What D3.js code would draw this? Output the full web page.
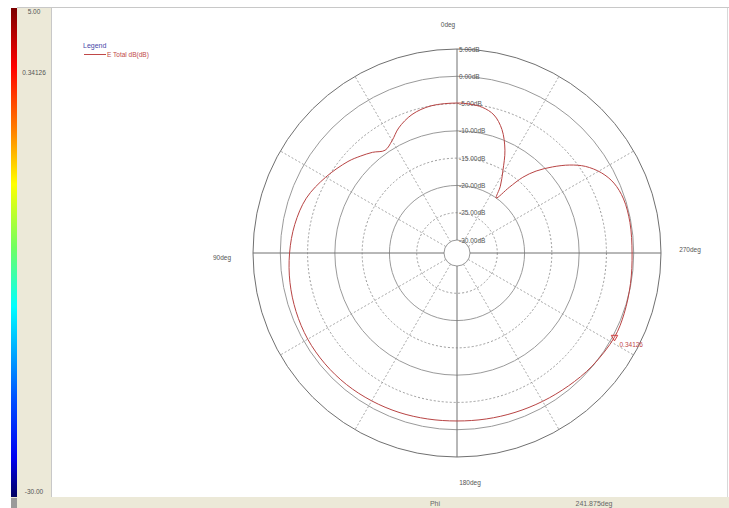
<!DOCTYPE html>
<html>
<head>
<meta charset="utf-8">
<script src="https://cdn.jsdelivr.net/npm/d3@7"></script>
<style>
	html, body { margin: 0; padding: 0; background: #fff; }
	svg { display: block; font-family: "Liberation Sans", Arial, sans-serif; }
</style>
</head>
<body>
<svg id="polar-chart" width="729" height="508"></svg>
<script>
// pattern trace, angle in deg (counter clockwise from top), value in dB
var patternAngles = [0, 10, 18, 25, 30, 35, 40, 45, 50, 60, 70, 80, 90, 100, 110, 120, 130, 140, 150, 160, 170, 180,
	190, 200, 210, 220, 230, 241.875, 250, 260, 270, 280, 288, 294, 299, 304, 308, 312, 316, 319, 321.5, 324.5, 327, 331,
	335, 340, 345, 350, 355];
var patternDb = [-4.9, -5.0, -5.7, -7.1, -8.6, -9.4, -8.3, -7.3, -6.3, -4.6, -3.0, -2.2, -1.7, -1.3, -1.0, -0.8, -0.8, -0.9, -1.1, -1.3, -1.5, -1.6,
	-1.5, -1.3, -1.0, -0.6, -0.1, 0.34126, 0.2, -0.1, -0.3, -0.2, -0.3, -0.9, -2.1, -4.0, -6.2, -8.8, -11.5, -14.0, -17.0, -20.0, -17.8, -15.0,
	-11.6, -8.3, -6.2, -5.3, -5.0];

var ringDb = [5, 0, -5, -10, -15, -20, -25, -30];
var ringLabels = ["5.00dB", "0.00dB", "-5.00dB", "-10.00dB", "-15.00dB", "-20.00dB", "-25.00dB", "-30.00dB"];
var axisAngles = [0, 90, 180, 270];
var axisLabels = ["0deg", "90deg", "180deg", "270deg"];
var spokeAngles = [30, 60, 120, 150, 210, 240, 300, 330];

var scaleValues = [5, 0.34126, -30];
var scaleLabels = ["5.00", "0.34126", "-30.00"];

var markerAngle = 241.875;
var markerDb = 0.34126;
var markerLabel = "0.34126";
var legendTitle = "Legend";
var legendLabel = "E Total dB(dB)";
var sweepName = "Phi";
var sweepValue = "241.875deg";

(function() {

	'use strict';

	var svg = d3.select("#polar-chart"),
		cx = 457,
		cy = 253,
		rScale,
		chartGroup;

	var toRad = function(deg) { return deg * Math.PI / 180; };

	// position for angle (ccw from top) and radius
	var polarX = function(deg, r) { return cx - r * Math.sin(toRad(deg)); };
	var polarY = function(deg, r) { return cy - r * Math.cos(toRad(deg)); };

	/**
	* frame, side panel and bottom strip
	* @returns {undefined}
	*/
	var drawFrame = function() {
		svg.append("rect")
			.attr("x", 17).attr("y", 7).attr("width", 34).attr("height", 491)
			.attr("fill", "#ece9d8");

		svg.append("rect")
			.attr("x", 11).attr("y", 497).attr("width", 718).attr("height", 11)
			.attr("fill", "#ece9d8");

		svg.append("rect")
			.attr("x", 11).attr("y", 498).attr("width", 6).attr("height", 10)
			.attr("fill", "#9a9a9a");

		svg.append("line")
			.attr("x1", 17).attr("x2", 729).attr("y1", 7.5).attr("y2", 7.5)
			.attr("stroke", "#c8c8c8");

		svg.append("line")
			.attr("x1", 51.5).attr("x2", 51.5).attr("y1", 8).attr("y2", 497)
			.attr("stroke", "#c8c8c8");

		svg.append("line")
			.attr("x1", 727.5).attr("x2", 727.5).attr("y1", 8).attr("y2", 497)
			.attr("stroke", "#d8d8d8");

		svg.append("text")
			.attr("x", 435).attr("y", 506)
			.attr("text-anchor", "middle")
			.attr("font-size", "7px").attr("fill", "#666")
			.text(sweepName);

		svg.append("text")
			.attr("x", 594).attr("y", 506)
			.attr("text-anchor", "middle")
			.attr("font-size", "7px").attr("fill", "#666")
			.text(sweepValue);
	};

	/**
	* colour scale bar on the left
	* @returns {undefined}
	*/
	var drawScaleBar = function() {
		var yScale = d3.scaleLinear().domain([-30, 5]).range([497, 8]);

		var grad = svg.append("defs").append("linearGradient")
			.attr("id", "jet")
			.attr("x1", 0).attr("x2", 0).attr("y1", 0).attr("y2", 1);

		var stops = [
			[0, "#7a0000"], [0.12, "#ff0000"], [0.25, "#ff8000"], [0.36, "#ffff00"],
			[0.49, "#70ff60"], [0.61, "#00ffff"], [0.8, "#0050ff"], [0.92, "#0000f0"], [1, "#000060"]
		];
		grad.selectAll("stop")
			.data(stops)
			.enter()
			.append("stop")
			.attr("offset", function(d) { return d[0]; })
			.attr("stop-color", function(d) { return d[1]; });

		svg.append("rect")
			.attr("x", 11).attr("y", yScale(5)).attr("width", 6)
			.attr("height", yScale(-30) - yScale(5))
			.attr("fill", "url(#jet)");

		svg.append("g")
			.selectAll("text")
			.data(scaleValues)
			.enter()
			.append("text")
			.attr("x", 34)
			.attr("y", function(d) { return Math.min(Math.max(yScale(d) + 2, 14), 494); })
			.attr("text-anchor", "middle")
			.attr("font-size", "6.5px").attr("fill", "#555")
			.text(function(d, i) { return scaleLabels[i]; });
	};

	/**
	* grid circles, spokes and labels
	* @returns {undefined}
	*/
	var drawGrid = function() {
		rScale = d3.scaleLinear().domain([-30, 5]).range([13, 204]);
		chartGroup = svg.append("g");

		var rMax = rScale(5);

		chartGroup.append("g")
			.selectAll("line")
			.data(spokeAngles)
			.enter()
			.append("line")
			.attr("x1", function(d) { return polarX(d, rScale(-30)); })
			.attr("y1", function(d) { return polarY(d, rScale(-30)); })
			.attr("x2", function(d) { return polarX(d, rMax); })
			.attr("y2", function(d) { return polarY(d, rMax); })
			.attr("stroke", "#a8a8a8")
			.attr("stroke-dasharray", "2,2");

		chartGroup.append("g")
			.selectAll("circle")
			.data(ringDb)
			.enter()
			.append("circle")
			.attr("cx", cx).attr("cy", cy)
			.attr("r", function(d) { return rScale(d); })
			.attr("fill", "none")
			.attr("stroke", function(d) { return d === 5 ? "#707070" : "#9a9a9a"; })
			.attr("stroke-dasharray", function(d) { return (d % 10 !== 0 && d !== 5) ? "2,2" : null; });

		chartGroup.append("g")
			.selectAll("line")
			.data(axisAngles)
			.enter()
			.append("line")
			.attr("x1", function(d) { return polarX(d, rScale(-30)); })
			.attr("y1", function(d) { return polarY(d, rScale(-30)); })
			.attr("x2", function(d) { return polarX(d, rMax); })
			.attr("y2", function(d) { return polarY(d, rMax); })
			.attr("stroke", "#707070");

		chartGroup.append("g")
			.selectAll("text")
			.data(ringDb)
			.enter()
			.append("text")
			.attr("x", cx + 2)
			.attr("y", function(d) { return cy - rScale(d) + 2.5; })
			.attr("font-size", "6.5px").attr("fill", "#555")
			.text(function(d, i) { return ringLabels[i]; });

		var labelShift = { 0: [-9, 0], 90: [-1, 4], 180: [13, 0], 270: [-1, -4] };

		chartGroup.append("g")
			.selectAll("text")
			.data(axisAngles)
			.enter()
			.append("text")
			.attr("x", function(d) { return polarX(d, d % 180 === 0 ? 229 : 234) + labelShift[d][0]; })
			.attr("y", function(d) { return polarY(d, d % 180 === 0 ? 229 : 234) + labelShift[d][1] + 2.5; })
			.attr("text-anchor", "middle")
			.attr("font-size", "6.5px").attr("fill", "#555")
			.text(function(d, i) { return axisLabels[i]; });
	};

	/**
	* pattern trace, marker and legend
	* @returns {undefined}
	*/
	var drawPattern = function() {
		var pts = patternAngles.map(function(a, i) { return [a, patternDb[i]]; });

		var line = d3.lineRadial()
			.curve(d3.curveCatmullRomClosed.alpha(0.5))
			.angle(function(d) { return -toRad(d[0]); })
			.radius(function(d) { return rScale(d[1]); });

		chartGroup.append("path")
			.datum(pts)
			.attr("transform", "translate(" + cx + "," + cy + ")")
			.attr("d", line)
			.attr("fill", "none")
			.attr("stroke", "#b84444")
			.attr("stroke-width", 1);

		var mx = polarX(markerAngle, rScale(markerDb)),
			my = polarY(markerAngle, rScale(markerDb));

		chartGroup.append("path")
			.attr("d", d3.symbol().type(d3.symbolTriangle).size(18))
			.attr("transform", "translate(" + mx + "," + my + ") rotate(180)")
			.attr("fill", "none")
			.attr("stroke", "#d04040");

		chartGroup.append("text")
			.attr("x", mx + 5).attr("y", my + 10)
			.attr("font-size", "6.5px").attr("fill", "#c04848")
			.text(markerLabel);

		svg.append("text")
			.attr("x", 83).attr("y", 48)
			.attr("font-size", "7px").attr("fill", "#4848a8")
			.text(legendTitle);

		svg.append("line")
			.attr("x1", 84).attr("x2", 106).attr("y1", 54.5).attr("y2", 54.5)
			.attr("stroke", "#c04848");

		svg.append("text")
			.attr("x", 107).attr("y", 57)
			.attr("font-size", "6.5px").attr("fill", "#c04848")
			.text(legendLabel);
	};

	drawFrame();
	drawScaleBar();
	drawGrid();
	drawPattern();

})();
</script>
</body>
</html>
